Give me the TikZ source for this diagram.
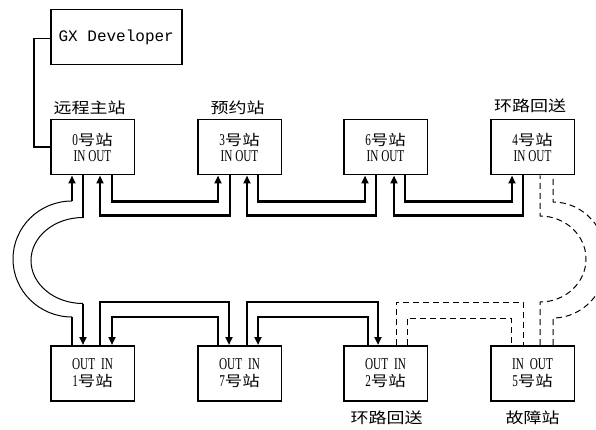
\documentclass[tikz,border=0pt]{standalone}
\usepackage{fontspec}
\setmainfont{Liberation Serif}
\newfontfamily\cjk[FakeStretch=1.2]{Noto Sans CJK SC}
\newfontfamily\nar[FakeStretch=0.68]{Liberation Serif}
\newfontfamily\gxmono{Liberation Mono}
\usetikzlibrary{arrows.meta,calc}
\newcommand\myLat[1]{{\nar\fontsize{16.5}{16.5}\selectfont #1}}
\newcommand\myZh[1]{{\cjk\fontsize{14.5}{16.5}\selectfont #1}}
\begin{document}
\begin{tikzpicture}[x=1pt,y=-1pt,
  box/.style={draw,line width=1.5pt,minimum width=83.5pt,minimum height=55pt,anchor=north west,inner sep=0pt,align=center,font=\fontsize{15}{16.5}\selectfont},
  conn/.style={line width=2.2pt},
  arr/.style={conn,-{Triangle[length=8pt,width=7pt]}},
  thinc/.style={line width=1pt},
  dsh/.style={line width=1pt,dash pattern=on 6pt off 4pt},
  lbl/.style={font=\cjk\fontsize{15}{15}\selectfont,inner sep=0pt}
]
\useasboundingbox (0,0) rectangle (596,430);
\clip (0,0) rectangle (596,430);

% boxes
\node[draw,line width=1.5pt,anchor=north west,minimum width=131pt,minimum height=55pt,inner sep=0pt,font=\gxmono\fontsize{16}{16}\selectfont] (gx) at (50,9) {GX Developer};
\node[box] (s0) at (50,119) {\myLat{0}\myZh{号站}\\\myLat{IN OUT}};
\node[box] (s3) at (197,119) {\myLat{3}\myZh{号站}\\\myLat{IN OUT}};
\node[box] (s6) at (343,119) {\myLat{6}\myZh{号站}\\\myLat{IN OUT}};
\node[box] (s4) at (490,119) {\myLat{4}\myZh{号站}\\\myLat{IN OUT}};
\node[box] (s1) at (50,345) {\myLat{OUT\hspace{6pt}IN}\\\myLat{1}\myZh{号站}};
\node[box] (s7) at (197,345) {\myLat{OUT\hspace{6pt}IN}\\\myLat{7}\myZh{号站}};
\node[box] (s2) at (343,345) {\myLat{OUT\hspace{6pt}IN}\\\myLat{2}\myZh{号站}};
\node[box] (s5) at (490,345) {\myLat{IN\hspace{6pt}OUT}\\\myLat{5}\myZh{号站}};

% labels
\node[lbl] (l0) at (89.5,108) {远程主站};
\node[lbl] (l3) at (237.5,108) {预约站};
\node[lbl] (l4) at (530,106) {环路回送};
\node[lbl] (l2) at (386.5,418) {环路回送};
\node[lbl] (l5) at (532.5,418) {故障站};

% GX link
\draw[line width=1.5pt] ([yshift=-1.5pt]gx.west) -- ++(-16,0) |- (s0.west);

% top row
\draw[arr] ([xshift=62pt]s0.south west) -- ++(0,26) -| ([xshift=21pt]s3.south west);
\draw[arr] ([xshift=33pt]s3.south west) -- ++(0,40) -| ([xshift=50pt]s0.south west);
\draw[arr] ([xshift=61pt]s3.south west) -- ++(0,26) -| ([xshift=22pt]s6.south west);
\draw[arr] ([xshift=33pt]s6.south west) -- ++(0,40) -| ([xshift=50pt]s3.south west);
\draw[arr] ([xshift=62pt]s6.south west) -- ++(0,26) -| ([xshift=22pt]s4.south west);
\draw[arr] ([xshift=33pt]s4.south west) -- ++(0,40) -| ([xshift=51pt]s6.south west);

% bottom row
\draw[arr] ([xshift=50pt]s1.north west) -- ++(0,-43) -| ([xshift=32pt]s7.north west);
\draw[arr] ([xshift=21pt]s7.north west) -- ++(0,-28) -| ([xshift=62pt]s1.north west);
\draw[arr] ([xshift=50pt]s7.north west) -- ++(0,-43) -| ([xshift=35pt]s2.north west);
\draw[arr] ([xshift=25pt]s2.north west) -- ++(0,-28) -| ([xshift=61pt]s7.north west);

% left loop-back arcs
\draw[conn] ([xshift=22pt]s1.north west) -- ++(0,-28) coordinate (lo1);
\draw[thinc] (lo1) arc[start angle=270,end angle=90,x radius=59pt,y radius=58pt] coordinate (lo2);
\draw[arr] (lo2) -- ([xshift=22pt]s0.south west);
\draw[conn] ([xshift=33pt]s0.south west) -- ++(0,42) coordinate (li1);
\draw[thinc] (li1) arc[start angle=90,end angle=270,x radius=52pt,y radius=43pt] coordinate (li2);
\draw[arr] (li2) -- ([xshift=33pt]s1.north west);

% dashed (faulty station)
\draw[dsh] ([xshift=53pt]s2.north west) -- ++(0,-43) -| ([xshift=33pt]s5.north west);
\draw[dsh] ([xshift=64pt]s2.north west) -- ++(0,-27) -| ([xshift=21pt]s5.north west);
\draw[dsh] ([xshift=50pt]s5.north west) -- ++(0,-43) arc[start angle=-90,end angle=90,x radius=46pt,y radius=43pt] -- ([xshift=50pt]s4.south west);
\draw[dsh] ([xshift=63pt]s5.north west) -- ++(0,-27) arc[start angle=-90,end angle=90,x radius=54pt,y radius=58pt] -- ([xshift=63pt]s4.south west);
\end{tikzpicture}
\end{document}
